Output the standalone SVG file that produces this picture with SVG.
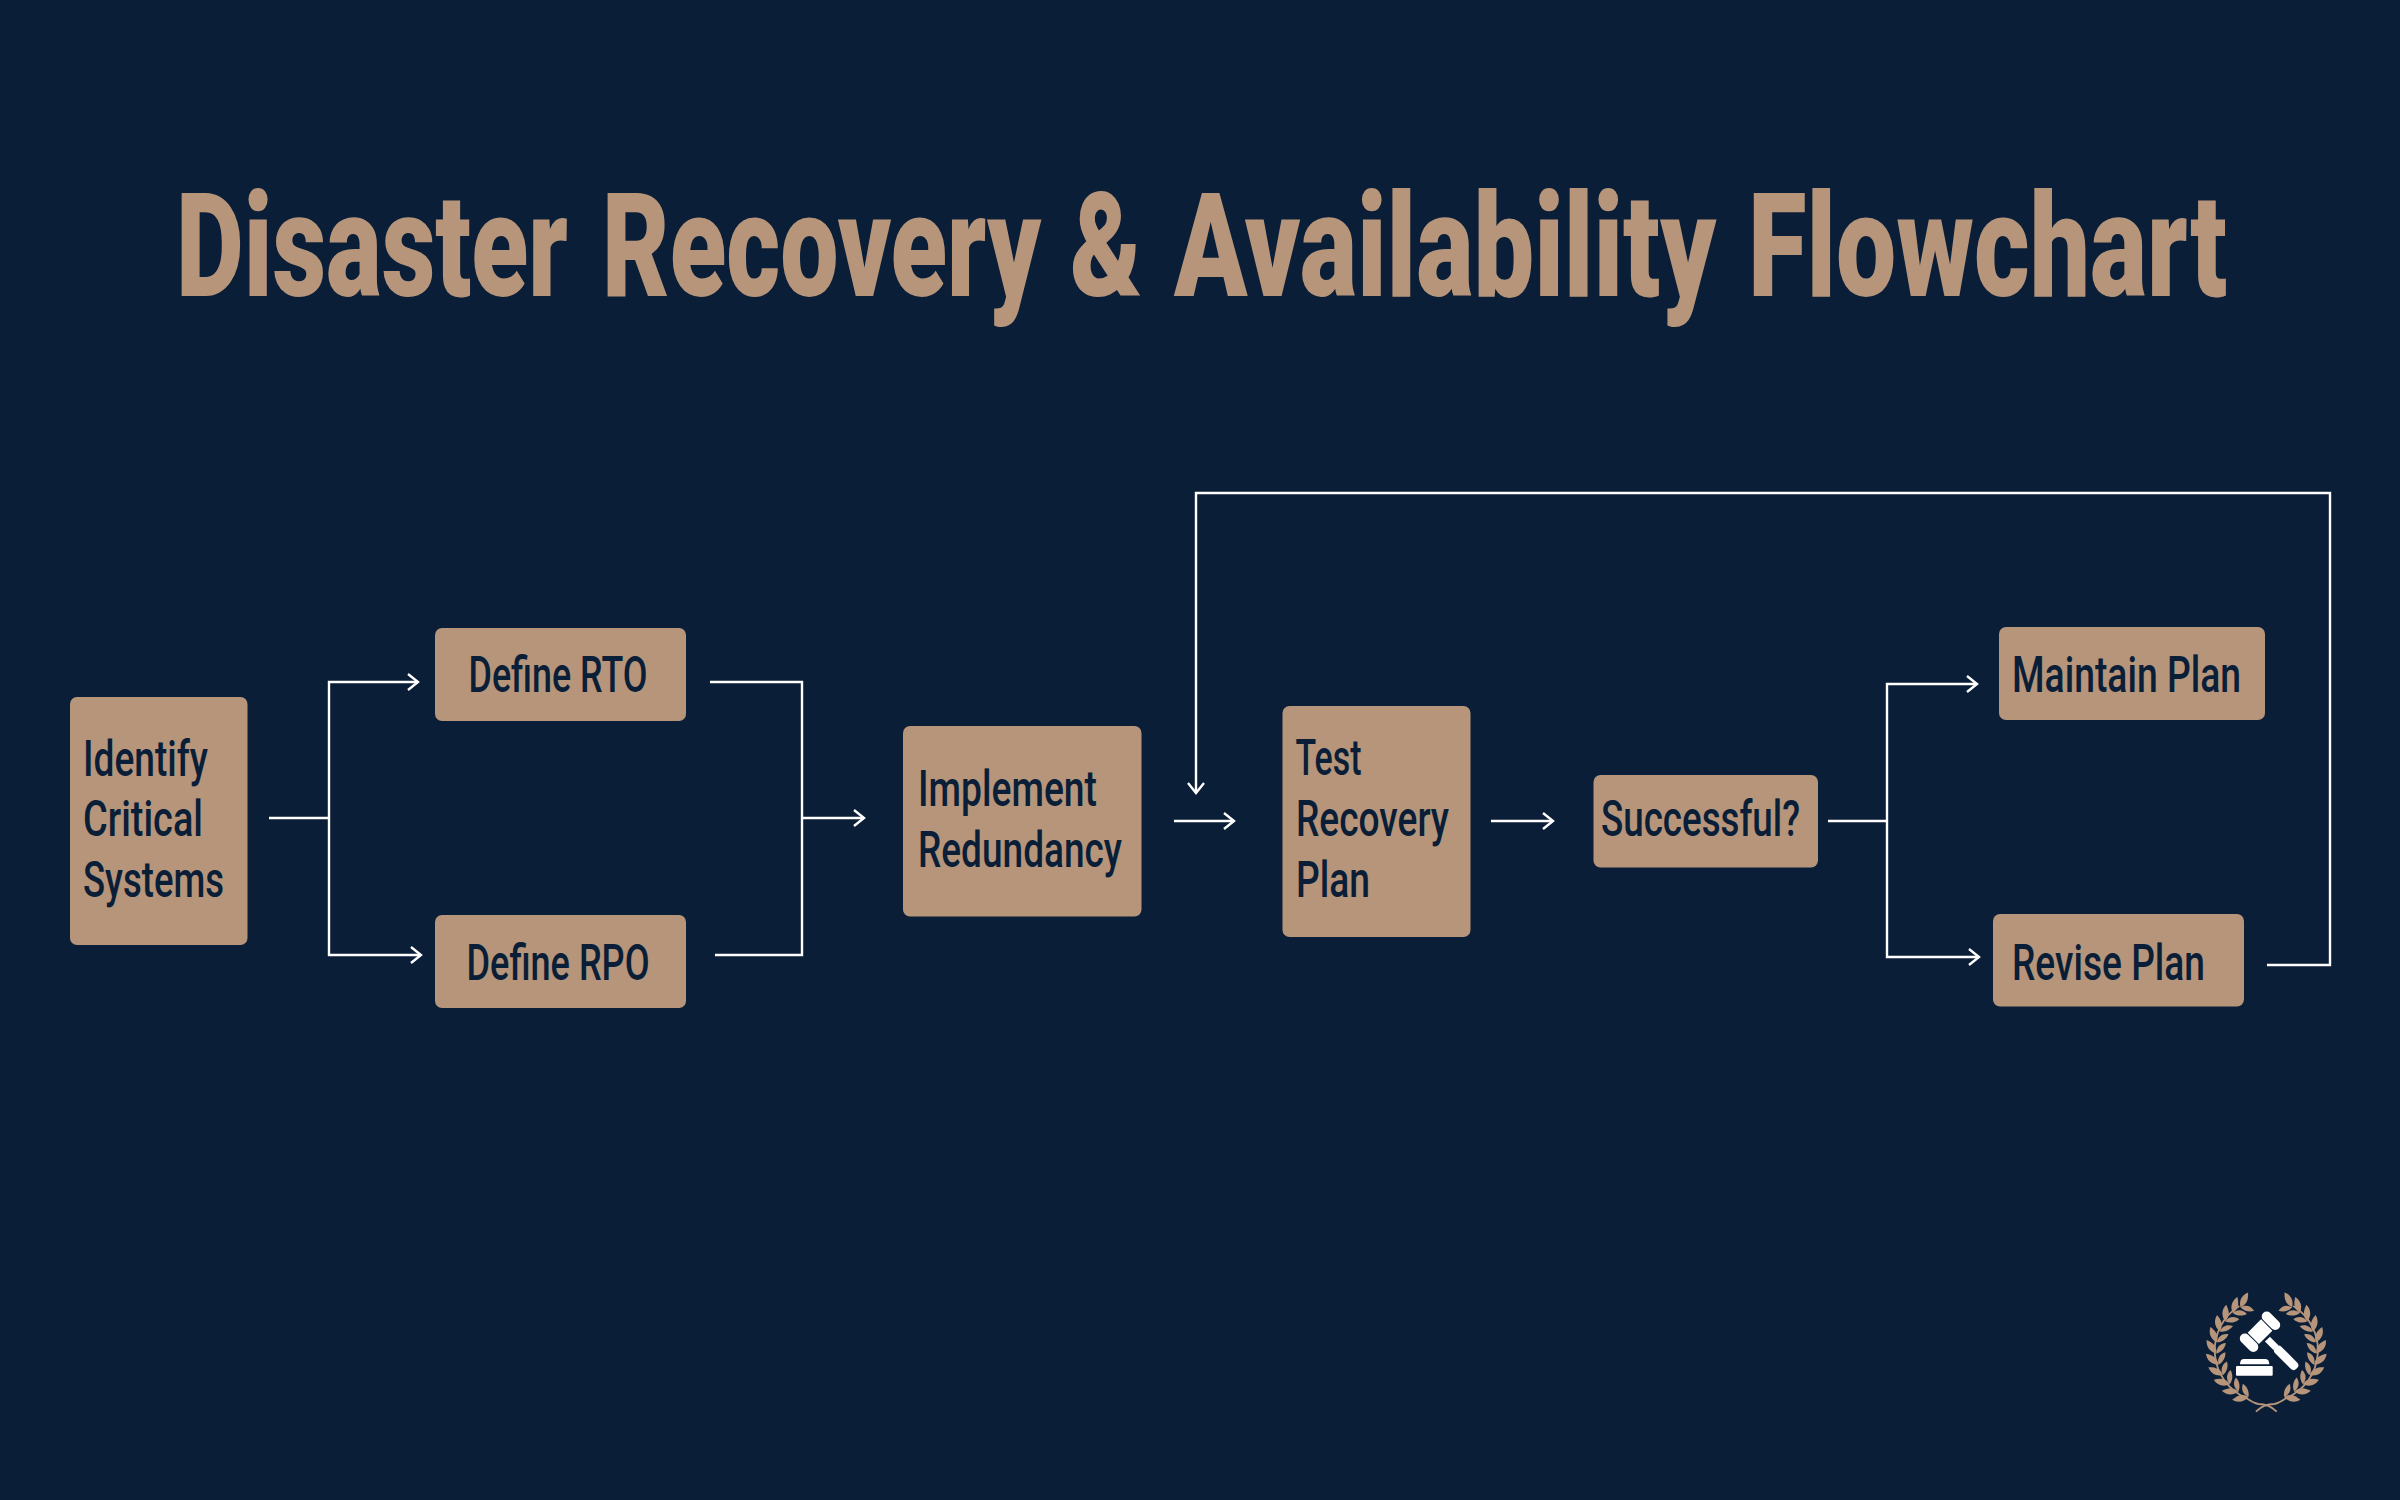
<svg xmlns="http://www.w3.org/2000/svg" xmlns:xlink="http://www.w3.org/1999/xlink" width="2400" height="1500" viewBox="0 0 2400 1500">
<style>
.box{fill:#b6957b}
.t{font-family:"Roboto","Liberation Sans",sans-serif;font-size:50px;font-weight:500;fill:#0a1e37}
.title{font-family:"Roboto","Liberation Sans",sans-serif;font-size:145px;font-weight:900;fill:#b6957b}
.c{fill:none;stroke:#fff;stroke-width:2.4}
.a{marker-end:url(#arrow)}
.leaf{fill:#b6957b}
.stem{fill:none;stroke:#b6957b;stroke-width:1.8}
.w{fill:#fff}
</style>
<defs>
<marker id="arrow" markerUnits="userSpaceOnUse" markerWidth="26" markerHeight="26" viewBox="-13 -13 26 26" refX="0" refY="0" orient="auto">
<path d="M-10 -8 L0 0 L-10 8" fill="none" stroke="#fff" stroke-width="2.4"/>
</marker>
<g id="pair">
<path class="leaf" d="M-50 1 C-57 -1 -60 -7 -59 -13 C-53 -10 -49 -6 -50 1Z"/>
<path class="leaf" d="M-50 1 C-45 0 -41 -4 -40 -9 C-46 -9 -50 -5 -50 1Z"/>
</g>
<g id="laurel">
<use xlink:href="#pair" transform="rotate(-68)"/>
<use xlink:href="#pair" transform="rotate(-55)"/>
<use xlink:href="#pair" transform="rotate(-42)"/>
<use xlink:href="#pair" transform="rotate(-29)"/>
<use xlink:href="#pair" transform="rotate(-16)"/>
<use xlink:href="#pair" transform="rotate(-3)"/>
<use xlink:href="#pair" transform="rotate(10)"/>
<use xlink:href="#pair" transform="rotate(23)"/>
<use xlink:href="#pair" transform="rotate(36)"/>
<use xlink:href="#pair" transform="rotate(49)"/>
<use xlink:href="#pair" transform="rotate(60)"/>
<path class="stem" d="M10.400 61.700 Q3 54 -8 54 Q-13 53 -20 48 A52 52 0 0 1 -27 -44"/>
</g>
</defs>
<rect width="2400" height="1500" fill="#0a1e37"/>
<text class="title" transform="scale(.73 1)" y="296"><tspan x="241.100" textLength="537" lengthAdjust="spacingAndGlyphs">Disaster</tspan> <tspan x="824.700" textLength="601.400" lengthAdjust="spacingAndGlyphs">Recovery</tspan> <tspan x="1465.800" textLength="98.600" lengthAdjust="spacingAndGlyphs">&amp;</tspan> <tspan x="1608.200" textLength="742.500" lengthAdjust="spacingAndGlyphs">Availability</tspan> <tspan x="2394.500" textLength="656.200" lengthAdjust="spacingAndGlyphs">Flowchart</tspan></text>
<g id="connectors">
<path class="c" d="M269 818H329"/>
<path class="c a" d="M329 818V682H418"/>
<path class="c a" d="M329 818V955H421"/>
<path class="c" d="M710 682H802V955H715"/>
<path class="c a" d="M802 818H864"/>
<path class="c a" d="M1174 821H1234"/>
<path class="c a" d="M1491 821H1553"/>
<path class="c" d="M1828 821H1887"/>
<path class="c a" d="M1887 821V684H1977"/>
<path class="c a" d="M1887 821V957H1979"/>
<path class="c a" d="M2267 965H2330V493H1196V793"/>
</g>
<g id="identify"><rect class="box" x="70" y="697" width="177.500" height="248" rx="7"/>
<text class="t" x="83" y="776" textLength="125" lengthAdjust="spacingAndGlyphs">Identify</text>
<text class="t" x="83" y="836" textLength="120" lengthAdjust="spacingAndGlyphs">Critical</text>
<text class="t" x="83" y="897" textLength="141" lengthAdjust="spacingAndGlyphs">Systems</text></g>
<g id="rto"><rect class="box" x="435" y="628" width="251" height="93" rx="7"/>
<text class="t" x="468.500" y="692" textLength="179" lengthAdjust="spacingAndGlyphs">Define RTO</text></g>
<g id="rpo"><rect class="box" x="435" y="915" width="251" height="93" rx="7"/>
<text class="t" x="466.500" y="980" textLength="183" lengthAdjust="spacingAndGlyphs">Define RPO</text></g>
<g id="implement"><rect class="box" x="903" y="726" width="238.500" height="190.500" rx="7"/>
<text class="t" x="918" y="806" textLength="179" lengthAdjust="spacingAndGlyphs">Implement</text>
<text class="t" x="918" y="867" textLength="204" lengthAdjust="spacingAndGlyphs">Redundancy</text></g>
<g id="test"><rect class="box" x="1282.500" y="706" width="188" height="231" rx="7"/>
<text class="t" x="1295.500" y="775" textLength="66" lengthAdjust="spacingAndGlyphs">Test</text>
<text class="t" x="1296" y="836" textLength="153" lengthAdjust="spacingAndGlyphs">Recovery</text>
<text class="t" x="1296" y="897" textLength="74" lengthAdjust="spacingAndGlyphs">Plan</text></g>
<g id="successful"><rect class="box" x="1593.500" y="775" width="224.500" height="92.500" rx="7"/>
<text class="t" x="1601" y="836" textLength="199" lengthAdjust="spacingAndGlyphs">Successful?</text></g>
<g id="maintain"><rect class="box" x="1999" y="627" width="266" height="93" rx="7"/>
<text class="t" x="2012" y="692" textLength="229" lengthAdjust="spacingAndGlyphs">Maintain Plan</text></g>
<g id="revise"><rect class="box" x="1993" y="914" width="251" height="92.500" rx="7"/>
<text class="t" x="2012" y="980" textLength="193" lengthAdjust="spacingAndGlyphs">Revise Plan</text></g>
<g id="logo">
<g transform="translate(2266.300 1350)"><use xlink:href="#laurel"/><use xlink:href="#laurel" transform="scale(-1 1)"/></g>
<g transform="translate(2260 1331.700) rotate(45)">
<rect class="w" x="-11" y="-20.500" width="22" height="10" rx="5"/>
<rect class="w" x="-11" y="10.500" width="22" height="10" rx="5"/>
<rect class="w" x="-8" y="-9.500" width="16" height="19"/>
<rect class="w" x="10.500" y="-3.500" width="12" height="7"/>
<rect class="w" x="22" y="-4.500" width="30" height="9" rx="4"/>
</g>
<path class="w" d="M2240 1364.300Q2240 1359 2244 1359H2265Q2269.300 1359 2269.300 1364.300Z"/>
<rect class="w" x="2236" y="1366" width="36.700" height="9.700" rx="1"/>
</g>
</svg>
